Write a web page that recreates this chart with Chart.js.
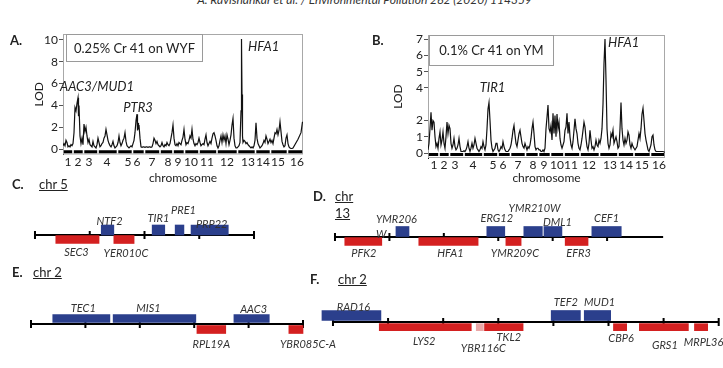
<!DOCTYPE html>
<html>
<head>
<meta charset="utf-8">
<script src="https://cdn.jsdelivr.net/npm/chart.js@4.4.1/dist/chart.umd.min.js"></script>
<style>
  body { margin: 0; width: 723px; height: 368px; position: relative; overflow: hidden; background: #fff;
         font-family: Lato, "Liberation Sans", sans-serif; color: #222; }
  canvas { position: absolute; }
  .t { position: absolute; white-space: nowrap; line-height: 15px; font-size: 13px; }
  .b { font-weight: bold; }
  .u { text-decoration: underline; }
  .hdr { position: absolute; left: 3px; width: 723px; top: -7px; text-align: center; font-style: italic;
         font-size: 12px; line-height: 14px; color: #333; }
  .box { position: absolute; border: 1px solid #9a9a9a; background: #fff; text-align: center; font-size: 13px; box-sizing: border-box; }
</style>
</head>
<body>
<div class="hdr">A. Ravishankar et al. / Environmental Pollution 262 (2020) 114359</div>

<canvas id="lodA" width="330" height="160" style="left:0;top:25px"></canvas>
<canvas id="lodB" width="330" height="160" style="left:360px;top:25px"></canvas>
<canvas id="genC" width="300" height="75" style="left:0;top:195px"></canvas>
<canvas id="genD" width="423" height="80" style="left:300px;top:190px"></canvas>
<canvas id="genE" width="350" height="80" style="left:0;top:285px"></canvas>
<canvas id="genF" width="413" height="83" style="left:310px;top:285px"></canvas>

<div class="t b" style="left:10px;top:33px">A.</div>
<div class="t b" style="left:372px;top:33px">B.</div>
<div class="box" style="left:66px;top:34px;width:137px;height:28px;line-height:26px">0.25% Cr 41 on WYF</div>
<div class="box" style="left:429px;top:35px;width:125px;height:31px;line-height:29px">0.1% Cr 41 on YM</div>

<div class="t b" style="left:12px;top:177px">C.</div>
<div class="t u" style="left:39px;top:177px">chr 5</div>
<div class="t b" style="left:313px;top:189px">D.</div>
<div class="t u" style="left:335px;top:189px">chr</div>
<div class="t u" style="left:335px;top:206px">13</div>
<div class="t b" style="left:12px;top:265px">E.</div>
<div class="t u" style="left:33px;top:265px">chr 2</div>
<div class="t b" style="left:310px;top:272px">F.</div>
<div class="t u" style="left:338px;top:272px">chr 2</div>

<script>
// ---- LOD scans (x = position along the genome axis, y = LOD) ----
const chrNames = ['1','2','3','4','5','6','7','8','9','10','11','12','13','14','15','16'];

const chrTickA = [5,15,26,44,65,74,89,105,115,128,144,164,185,200,215,234];
const chrEdgeA = [0,10,20.5,35,54.5,69.5,81.5,97,110,121.5,136,154,174.5,192.5,207.5,224.5,240];
const lodTicksA = [0,2,4,6,8,10];
const traceA = [
  [0,.3],[1,.5],[2,.3],[3,.8],[4,.6],[5,.2],[6,.3],[7,.2],[8,.4],[9,.3],[10,.5],[11,1.5],[12,3.8],[13,3.5],[14,4.2],
  [15,4.7],[15.5,3.0],[16,4.0],[17,1.2],[18,.5],[19,1.0],[20,.4],[21,2.3],[22,1.6],[23,2.0],[24,1.2],[25,.6],[26,.9],
  [27,.4],[28,.3],[29,.2],[30,.7],[31,.3],[32,.2],[33,.1],[34,.4],[35,1.0],[36,.6],[37,.2],[38,.3],[39,.5],[40,.6],
  [41,1.0],[42,1.2],[43,1.8],[44,1.3],[45,.8],[46,.5],[47,.3],[48,.2],[49,.4],[50,.7],[51,.3],[52,.1],[53,.2],[54,.3],
  [55,.6],[56,1.2],[57,.6],[58,.3],[59,.5],[60,.8],[61,1.0],[62,1.5],[63,.7],[64,.3],[65,.2],[66,.1],[67,.2],[68,.3],
  [69,.2],[70,.5],[71,.8],[72,1.5],[73,2.6],[74,3.2],[74.5,1.7],[75,2.4],[75.5,1.8],[76,2.2],[77,1.0],[78,.2],[79,.15],
  [80,.2],[81,.2],[82,.15],[83,.2],[84,.2],[85,.15],[86,.2],[87,.2],[88,.15],[89,.2],[90,.5],[91,1.0],[92,.8],[93,.5],
  [94,.7],[95,.4],[96,.3],[97,.2],[98,.3],[99,.6],[100,.3],[101,.2],[102,.4],[103,.3],[104,.6],[105,.4],[106,.3],
  [107,.5],[108,1.0],[109,1.5],[110,2.2],[111,1.0],[112,.4],[113,.3],[114,.5],[115,.3],[116,.6],[117,.5],[118,.4],
  [119,.8],[120,1.1],[121,1.8],[122,.9],[123,.4],[124,.6],[125,.5],[126,.8],[127,1.2],[128,1.0],[129,1.8],[130,.9],
  [131,.5],[132,.3],[133,.5],[134,.4],[135,.6],[136,1.0],[137,.6],[138,.3],[139,.4],[140,.5],[141,.4],[142,.9],
  [143,1.3],[144,.6],[145,.3],[146,.5],[147,.7],[148,.5],[149,1.0],[150,1.4],[151,1.5],[152,1.2],[153,.8],[154,.3],
  [155,.1],[156,.3],[157,.8],[158,1.2],[159,.6],[160,1.3],[161,.8],[162,1.2],[163,.5],[164,1.3],[165,.9],[166,.4],
  [167,.8],[168,1.3],[169,2.2],[170,2.8],[171,1.0],[172,.3],[173,.1],[174,.1],[175,.2],[176,.3],[177,.6],[178,3.5],
  [178.5,10.1],[179,5.0],[179.5,1.2],[180,.6],[181,.8],[182,.7],[183,.5],[184,.6],[185,.4],[186,.3],[187,.2],[188,.1],
  [189,.2],[190,.1],[191,.3],[192,.8],[193,2.4],[194,1.0],[195,.5],[196,.3],[197,.1],[198,.2],[199,.3],[200,.5],
  [201,.8],[202,.6],[203,1.2],[204,.9],[205,.5],[206,.7],[207,.9],[208,.6],[209,.8],[210,.5],[211,1.0],[212,1.5],
  [213,1.4],[214,1.8],[215,1.3],[216,1.7],[217,2.5],[218,1.6],[219,.7],[220,.4],[221,.2],[222,.3],[223,1.0],[224,1.3],
  [225,.5],[226,.2],[227,.1],[228,.05],[229,.05],[230,.1],[235,.9],[238,1.5],[239.5,2.5]
];
const peaksA = [
  { name: 'AAC3/MUD1', x: 34, lod: 5.7, align: 'center' },
  { name: 'PTR3', x: 75, lod: 3.75, align: 'center' },
  { name: 'HFA1', x: 185, lod: 9.35, align: 'left' }
];

const chrTickB = [6,16,27,45,65,75,90,105,116,129,143,161,182,198,214,231];
const chrEdgeB = [0,11,21.5,36,55,70,82.5,97.5,110.5,122.5,136,152,171.5,190,206,222.5,237];
const lodTicksB = [0,1,2,4,5,6,7];
const traceB = [
  [0,.2],[1,.6],[2,1.5],[3,2.5],[4,1.4],[5,2.0],[6,1.9],[7,1.0],[8,.4],[9,.6],[10,.3],[11,.9],[12,1.3],[13,.5],[14,.8],
  [15,1.3],[16,.6],[17,.3],[18,1.0],[19,1.9],[20,1.2],[21,1.7],[22,1.5],[23,.6],[24,.3],[25,.5],[26,.9],[27,.4],[28,.2],
  [29,.3],[30,.5],[31,.9],[32,.4],[33,.1],[34,.1],[35,.1],[36,.15],[37,.1],[38,.2],[39,.4],[40,.7],[41,.3],[42,.1],
  [43,.3],[44,.6],[45,.3],[46,.5],[47,.9],[48,.6],[49,.3],[50,.2],[51,.1],[52,.2],[53,.4],[54,.3],[55,.7],[56,.4],
  [57,.2],[58,.5],[59,1.5],[60,2.7],[61,3.1],[62,2.0],[63,.8],[64,.3],[65,.1],[66,.2],[67,.3],[68,.6],[69,.6],[70,.2],
  [71,.1],[72,.2],[73,.4],[74,.3],[75,.7],[76,.4],[77,.2],[78,.1],[79,.1],[80,.1],[81,.2],[82,.3],[83,.5],[84,.9],
  [85,1.4],[86,1.7],[87,1.1],[88,.6],[89,.4],[90,.8],[91,1.2],[92,1.4],[93,1.0],[94,.6],[95,.4],[96,.3],[97,.6],[98,.4],
  [99,.2],[100,.4],[101,.3],[102,.5],[103,.9],[104,1.5],[105,1.9],[106,1.2],[107,.4],[108,.2],[109,.3],[110,.3],
  [111,.2],[112,.2],[113,.1],[114,.1],[115,.2],[116,.1],[117,.3],[118,1.5],[119,2.2],[120,2.95],[121,1.5],[122,1.3],
  [123,1.7],[124,.8],[125,2.45],[126,1.2],[127,2.3],[128,1.0],[129,2.4],[130,1.5],[131,1.9],[132,.9],[133,.5],[134,.3],
  [135,.5],[136,.7],[137,1.4],[138,1.6],[139,2.45],[140,1.2],[141,1.9],[142,1.0],[143,.5],[144,.3],[145,.7],[146,1.4],
  [147,2.1],[148,1.5],[149,1.2],[150,.6],[151,.3],[152,.2],[153,.5],[154,.9],[155,1.4],[156,1.9],[157,1.6],[158,.9],
  [159,.4],[160,.2],[161,.6],[162,1.4],[163,.8],[164,.3],[165,.4],[166,.2],[167,.4],[168,.8],[169,.5],[170,.4],[171,.8],
  [172,.6],[173,.9],[174,1.5],[175,3.0],[176,5.5],[177,7.0],[178,4.5],[179,1.5],[180,.6],[181,.3],[182,.5],[183,1.2],
  [184,1.0],[185,1.4],[186,.6],[187,.8],[188,1.0],[189,.7],[190,.3],[191,.4],[192,1.5],[193,3.1],[194,1.5],[195,.8],
  [196,.5],[197,.9],[198,.6],[199,.8],[200,1.3],[201,1.1],[202,.5],[203,.3],[204,.6],[205,.4],[206,.3],[207,.2],
  [208,.3],[209,.4],[210,.8],[211,1.2],[212,.9],[213,1.5],[214,2.4],[215,2.75],[216,2.0],[217,1.2],[218,.8],[219,.5],
  [220,.2],[221,.1],[222,.3],[223,.5],[224,1.0],[225,1.1],[226,.5],[227,.2],[228,.1],[229,.1],[230,.1],[235,.1],[237,.05]
];
const peaksB = [
  { name: 'TIR1', x: 64.5, lod: 4.0, align: 'center' },
  { name: 'HFA1', x: 180, lod: 6.75, align: 'left' }
];

// ---- gene maps (x in kb-like units along the drawn segment) ----
const genesC  = ['SEC3','NTF2','YER010C','TIR1','PRE1','PRP22'];
const startC  = [3.8, 12.1, 14.4, 21.4, 25.6, 28.5];
const endC    = [11.7, 14.4, 18.1, 23.7, 27.2, 35.3];
const strandC = ['-','+','-','+','+','+'];
const ticksC  = [0,10,20,30,40];

const genesD  = ['PFK2','YMR206W','HFA1','ERG12','YMR209C','YMR210W','DML1','EFR3','CEF1'];
const startD  = [1.8, 11.2, 15.4, 27.9, 31.4, 34.7, 38.4, 42.3, 47.2];
const endD    = [8.6, 13.6, 26.3, 31.2, 34.2, 38.1, 41.7, 46.5, 52.6];
const strandD = ['-','+','-','+','-','+','+','-','+'];
const ticksD  = [0,10,20,30,40,50];

const genesE  = ['TEC1','MIS1','RPL19A','AAC3','YBR085C-A'];
const startE  = [4.0, 15.1, 30.5, 37.3, 47.4];
const endE    = [14.5, 30.3, 35.8, 43.8, 50.0];
const strandE = ['+','+','-','+','-'];
const ticksE  = [0,10,20,30,40,50];

const genesF  = ['RAD16','LYS2','YBR116C','TKL2','TEF2','MUD1','CBP6','GRS1','MRPL36'];
const startF  = [-2.0, 8.4, 26.0, 27.5, 39.6, 45.6, 50.9, 55.6, 65.6];
const endF    = [8.7, 25.1, 27.3, 34.5, 44.9, 50.4, 53.3, 64.5, 68.0];
const strandF = ['+','-','-','-','+','+','-','-','-'];
const ticksF  = [0,10,20,30,40,50,60,70];

const BLUE = '#2b3f8c', RED = '#d42020', PINK = '#eba7a7';
const FONT = 'Lato, "Liberation Sans", sans-serif';
Chart.defaults.font.family = FONT;
Chart.defaults.color = '#222';

// grey frame round the plot area
const frame = {
  id: 'frame',
  beforeDatasetsDraw(chart) {
    const a = chart.chartArea, c = chart.ctx;
    c.save();
    c.strokeStyle = '#a8a8a8'; c.lineWidth = 1;
    c.strokeRect(a.left + 0.5, a.top + 0.5, a.width - 1, a.height - 1);
    c.restore();
  }
};

function peakPlugin(peaks) {
  return {
    id: 'peaks',
    afterDatasetsDraw(chart) {
      const c = chart.ctx, xs = chart.scales.x, ys = chart.scales.y;
      c.save();
      c.font = 'italic 13px ' + FONT; c.fillStyle = '#222'; c.textBaseline = 'middle';
      peaks.forEach(p => {
        c.textAlign = p.align;
        c.fillText(p.name, xs.getPixelForValue(p.x), ys.getPixelForValue(p.lod));
      });
      c.restore();
    }
  };
}

// chromosome numbers and axis title under the plot, placed through the x scale
function chrAxis(ticks, labelGap, titleGap) {
  return {
    id: 'chrAxis',
    afterDraw(chart) {
      const c = chart.ctx, xs = chart.scales.x, a = chart.chartArea;
      c.save();
      c.fillStyle = '#222'; c.textAlign = 'center'; c.textBaseline = 'middle';
      c.font = '12px ' + FONT;
      ticks.forEach((v, i) => c.fillText(chrNames[i], xs.getPixelForValue(v), a.bottom + labelGap));
      c.fillText('chromosome', (a.left + a.right) / 2, a.bottom + titleGap);
      c.restore();
    }
  };
}

// chromosome marker bar along the bottom, broken at every chromosome edge
function markerBar(edges, level) {
  const pts = [];
  for (let i = 0; i < edges.length - 1; i++) {
    pts.push({ x: edges[i] + 0.8, y: level }, { x: edges[i + 1] - 0.8, y: level }, { x: edges[i + 1], y: null });
  }
  return pts;
}

function lodChart(id, trace, chrTicks, chrEdges, lodTicks, peaks, o) {
  new Chart(document.getElementById(id), {
    type: 'line',
    data: { datasets: [
      { data: trace.map(p => ({ x: p[0], y: p[1] })), borderColor: '#111', borderWidth: 1.2, pointRadius: 0, tension: 0 },
      { data: markerBar(chrEdges, o.bar), borderColor: '#000', borderWidth: 3, pointRadius: 0, spanGaps: false }
    ]},
    options: {
      responsive: false, animation: false, events: [],
      layout: { padding: o.pad },
      scales: {
        x: { type: 'linear', min: 0, max: o.xMax, display: false },
        y: {
          type: 'linear', min: o.yMin, max: o.yMax,
          afterBuildTicks: s => { s.ticks = lodTicks.map(v => ({ value: v })); },
          afterFit: s => { s.width = o.yW; },
          grid: { drawOnChartArea: false, tickLength: 4, color: '#555' },
          border: { color: '#111' },
          ticks: { padding: 1, font: { size: 12 } },
          title: { display: true, text: 'LOD', font: { size: 12 }, padding: 2 }
        }
      },
      plugins: { legend: { display: false }, tooltip: { enabled: false } }
    },
    plugins: [frame, peakPlugin(peaks), chrAxis(chrTicks, o.labelGap, o.titleGap)]
  });
}

lodChart('lodA', traceA, chrTickA, chrEdgeA, lodTicksA, peaksA,
  { xMax: 240, yMin: -0.5, yMax: 10.55, bar: -0.25, pad: { left: 30, right: 27, top: 9, bottom: 30.5 }, yW: 33,
    labelGap: 8, titleGap: 23.5 });
lodChart('lodB', traceB, chrTickB, chrEdgeB, lodTicksB, peaksB,
  { xMax: 237, yMin: -0.3, yMax: 7.25, bar: -0.08, pad: { left: 29, right: 25, top: 10, bottom: 27 }, yW: 39,
    labelGap: 7.5, titleGap: 20 });

// ---- gene map drawing ----
function geneChart(id, genes, starts, ends, strands, ticks, line, look, place) {
  const rows = s => genes.map((g, i) => strands[i] === s ? { x: [starts[i], ends[i]], y: s === '+' ? look.up : look.down, g } : null)
                        .filter(Boolean);
  const axisLine = {
    id: 'axisLine',
    beforeDatasetsDraw(chart) {
      const xs = chart.scales.x, y0 = chart.scales.y.getPixelForValue(0), c = chart.ctx;
      c.save();
      c.strokeStyle = '#000'; c.lineWidth = 2;
      c.beginPath();
      c.moveTo(xs.getPixelForValue(line[0]), y0); c.lineTo(xs.getPixelForValue(line[1]), y0);
      ticks.forEach(t => { const px = xs.getPixelForValue(t); c.moveTo(px, y0 - 4); c.lineTo(px, y0 + 4); });
      c.stroke();
      c.restore();
    }
  };
  const labels = {
    id: 'labels',
    afterDatasetsDraw(chart) {
      const c = chart.ctx, xs = chart.scales.x, ys = chart.scales.y;
      c.save();
      c.font = 'italic 11px ' + FONT; c.fillStyle = '#333'; c.textBaseline = 'middle';
      genes.forEach((g, i) => {
        const p = place[g] || [0, 0];
        const cx = xs.getPixelForValue((starts[i] + ends[i]) / 2);
        const cy = ys.getPixelForValue(strands[i] === '+' ? look.up : look.down);
        const lines = p[3] || [g];
        c.textAlign = p[2] || 'center';
        lines.forEach((t, k) => c.fillText(t, cx + p[0], cy + p[1] + k * 15));
      });
      c.restore();
    }
  };
  new Chart(document.getElementById(id), {
    type: 'bar',
    data: { datasets: [
      { data: rows('+'), backgroundColor: BLUE, barThickness: look.upH, grouped: false },
      { data: rows('-'), backgroundColor: ctx => (ctx.raw && look.tint[ctx.raw.g]) || RED, barThickness: look.downH, grouped: false }
    ]},
    options: {
      indexAxis: 'y', responsive: false, animation: false, events: [],
      layout: { padding: { left: 0, right: 0, top: look.top, bottom: look.bottom } },
      scales: {
        x: { type: 'linear', min: look.min, max: look.max, display: false },
        y: { type: 'linear', min: -1, max: 1, display: false }
      },
      plugins: { legend: { display: false }, tooltip: { enabled: false } }
    },
    plugins: [axisLine, labels]
  });
}

geneChart('genC', genesC, startC, endC, strandC, ticksC, [0, 40],
  { min: -6.39, max: 48.4, top: 20, bottom: 15, up: 0.5, down: -0.45, upH: 10, downH: 8, tint: {} },
  { NTF2: [2, -9], TIR1: [0, -12], PRE1: [4, -20], PRP22: [2, -6], SEC3: [-1, 13], YER010C: [2, 14] });

geneChart('genD', genesD, startD, endD, strandD, ticksD, [0, 60.3],
  { min: -6.43, max: 71.3, top: 27, bottom: 13, up: 0.55, down: -0.45, upH: 10, downH: 8, tint: {} },
  { YMR206W: [-26.5, -12, 'left', ['YMR206', 'W']], ERG12: [1, -13], YMR210W: [1.5, -23], DML1: [4.5, -9], CEF1: [0, -13],
    PFK2: [0.5, 12], HFA1: [2, 12], YMR209C: [1.5, 12], EFR3: [2, 12] });

geneChart('genE', genesE, startE, endE, strandE, ticksE, [0, 50],
  { min: -5.70, max: 58.64, top: 19, bottom: 21, up: 0.55, down: -0.55, upH: 8, downH: 8, tint: {} },
  { TEC1: [2, -10], MIS1: [-6, -10], AAC3: [2, -9], RPL19A: [0, 15], 'YBR085C-A': [12, 15] });

geneChart('genF', genesF, startF, endF, strandF, ticksF, [0, 70],
  { min: -4.17, max: 70.78, top: 17, bottom: 26, up: 0.65, down: -0.52, upH: 10, downH: 7, tint: { YBR116C: PINK } },
  { RAD16: [2, -8], TEF2: [0, -13], MUD1: [2, -13], LYS2: [-1, 14.5], YBR116C: [3.5, 21.5], TKL2: [5, 10.5],
    CBP6: [1, 11.5], GRS1: [1, 18.5], MRPL36: [2.5, 15.5] });
</script>
</body>
</html>
